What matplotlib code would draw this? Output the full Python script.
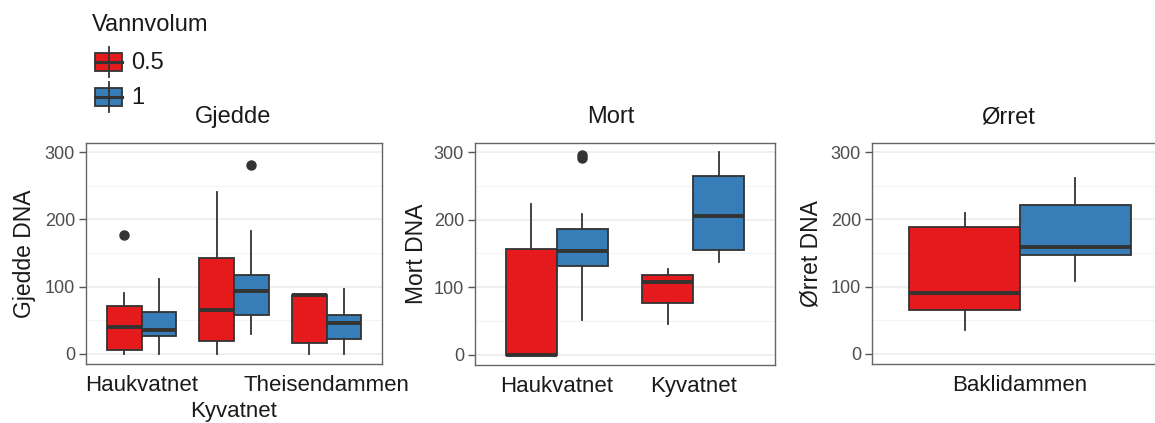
import numpy as np
import matplotlib.pyplot as plt
from matplotlib.patches import Rectangle
from matplotlib.lines import Line2D

plt.rcParams['font.family'] = ['Liberation Sans', 'DejaVu Sans']

W, H = 1155, 423
farger = {'0.5': '#E41A1C', '1': '#377EB8'}
kant = '#333333'

# --- data lest av figuren (whislo, q1, med, q3, whishi) ---
gjedde_steder = ['Haukvatnet', 'Kyvatnet', 'Theisendammen']
gjedde_05 = [[0, 6, 40, 72, 91], [0, 19, 65, 142, 240], [0, 16, 87, 88, 88]]
gjedde_1 = [[0, 26, 35, 62, 111], [30, 58, 94, 118, 183], [0, 22, 46, 58, 97]]
gjedde_05_ut = [[177], [], []]
gjedde_1_ut = [[], [280], []]

mort_steder = ['Haukvatnet', 'Kyvatnet']
mort_05 = [[0, 0, 0, 156, 223], [45, 77, 108, 118, 127]]
mort_1 = [[52, 131, 154, 186, 209], [138, 155, 205, 264, 300]]
mort_05_ut = [[], []]
mort_1_ut = [[291, 296], []]

orret_steder = ['Baklidammen']
orret_05 = [[36, 65, 91, 189, 209]]
orret_1 = [[109, 147, 159, 221, 261]]
orret_05_ut = [[]]
orret_1_ut = [[]]


def px_axes(x0, x1, y0, y1):
    return fig.add_axes([x0 / W, (H - y1) / H, (x1 - x0) / W, (y1 - y0) / H])


def stats(verdier, ut):
    res = []
    for v, u in zip(verdier, ut):
        res.append(dict(whislo=v[0], q1=v[1], med=v[2], q3=v[3], whishi=v[4], fliers=u))
    return res


def tegn_panel(ax, steder, v05, v1, u05, u1, xlim, ylab):
    pos = np.arange(1, len(steder) + 1)
    for verdier, ut, forskyv, farge in [(v05, u05, -0.1875, farger['0.5']),
                                        (v1, u1, 0.1875, farger['1'])]:
        ax.bxp(stats(verdier, ut), positions=pos + forskyv, widths=0.375,
               patch_artist=True, showcaps=False, manage_ticks=False,
               boxprops=dict(facecolor=farge, edgecolor=kant, linewidth=1.3),
               medianprops=dict(color=kant, linewidth=2.8, solid_capstyle='butt'),
               whiskerprops=dict(color=kant, linewidth=1.3),
               flierprops=dict(marker='o', markerfacecolor=kant, markeredgecolor=kant,
                               markersize=6.5))
    ax.set_xlim(*xlim)
    ax.set_ylim(-14.9, 313.4)
    ax.set_yticks([0, 100, 200, 300])
    ax.set_yticks([50, 150, 250], minor=True)
    ax.grid(True, which='major', axis='y', color='#EBEBEB', linewidth=1.1)
    ax.grid(True, which='minor', axis='y', color='#F4F4F4', linewidth=0.8)
    ax.set_axisbelow(True)
    ax.tick_params(axis='y', which='major', length=5, width=1, color='#555555',
                   labelsize=13, labelcolor='#4D4D4D', pad=3)
    ax.tick_params(axis='y', which='minor', length=0)
    ax.tick_params(axis='x', length=0, labelsize=16, labelcolor='#1A1A1A', pad=8)
    ax.set_xticks(pos)
    ax.set_xticklabels(steder)
    for s in ax.spines.values():
        s.set_color('#666666')
        s.set_linewidth(1)
    ax.set_ylabel(ylab, fontsize=16.5, color='#1A1A1A')


fig = plt.figure(figsize=(W / 100, H / 100), dpi=100)

ax1 = px_axes(86, 382, 143, 364)
tegn_panel(ax1, gjedde_steder, gjedde_05, gjedde_1, gjedde_05_ut, gjedde_1_ut,
           (0.4, 3.6), 'Gjedde DNA')
# midtre etikett på en egen linje under de andre (som i originalen)
ax1.set_xticklabels([gjedde_steder[0], '', gjedde_steder[2]])
ax1.text(2, -47 / 221, gjedde_steder[1], transform=ax1.get_xaxis_transform(),
         ha='center', va='center', fontsize=16, color='#1A1A1A')
ax1.yaxis.set_label_coords(-50 / 296, 0.5)

ax2 = px_axes(475, 775, 143, 365)
tegn_panel(ax2, mort_steder, mort_05, mort_1, mort_05_ut, mort_1_ut,
           (0.4, 2.6), 'Mort DNA')
ax2.yaxis.set_label_coords(-47 / 300, 0.5)

ax3 = px_axes(872, 1200, 143, 364)
tegn_panel(ax3, orret_steder, orret_05, orret_1, orret_05_ut, orret_1_ut,
           (0.498, 1.61), 'Ørret DNA')
ax3.yaxis.set_label_coords(-50 / 328, 0.5)

# titler
for x, t in [(233, 'Gjedde'), (611, 'Mort'), (1008, 'Ørret')]:
    fig.text(x / W, 1 - 117 / H, t, fontsize=17, ha='center', va='center', color='#1A1A1A')

# legende
fig.text(92 / W, 1 - 25 / H, 'Vannvolum', fontsize=17, ha='left', va='center', color='#1A1A1A')
for (ytopp, ybunn, wtopp, wbunn), etikett in [((53, 71, 47, 77), '0.5'), ((88, 106, 82, 112), '1')]:
    farge = farger[etikett]
    fy = lambda y: 1 - y / H
    fig.add_artist(Line2D([108.5 / W, 108.5 / W], [fy(wtopp), fy(wbunn)],
                          color=kant, linewidth=1.3))
    fig.add_artist(Rectangle((95 / W, fy(ybunn)), 27 / W, (ybunn - ytopp) / H,
                             facecolor=farge, edgecolor=kant, linewidth=1.3))
    ymid = (ytopp + ybunn) / 2
    fig.add_artist(Line2D([95 / W, 122 / W], [fy(ymid), fy(ymid)], color=kant, linewidth=2.2))
    fig.text(131 / W, fy(ymid + 1), etikett, fontsize=17, ha='left', va='center', color='#1A1A1A')

fig.savefig('out.png', dpi=100)
